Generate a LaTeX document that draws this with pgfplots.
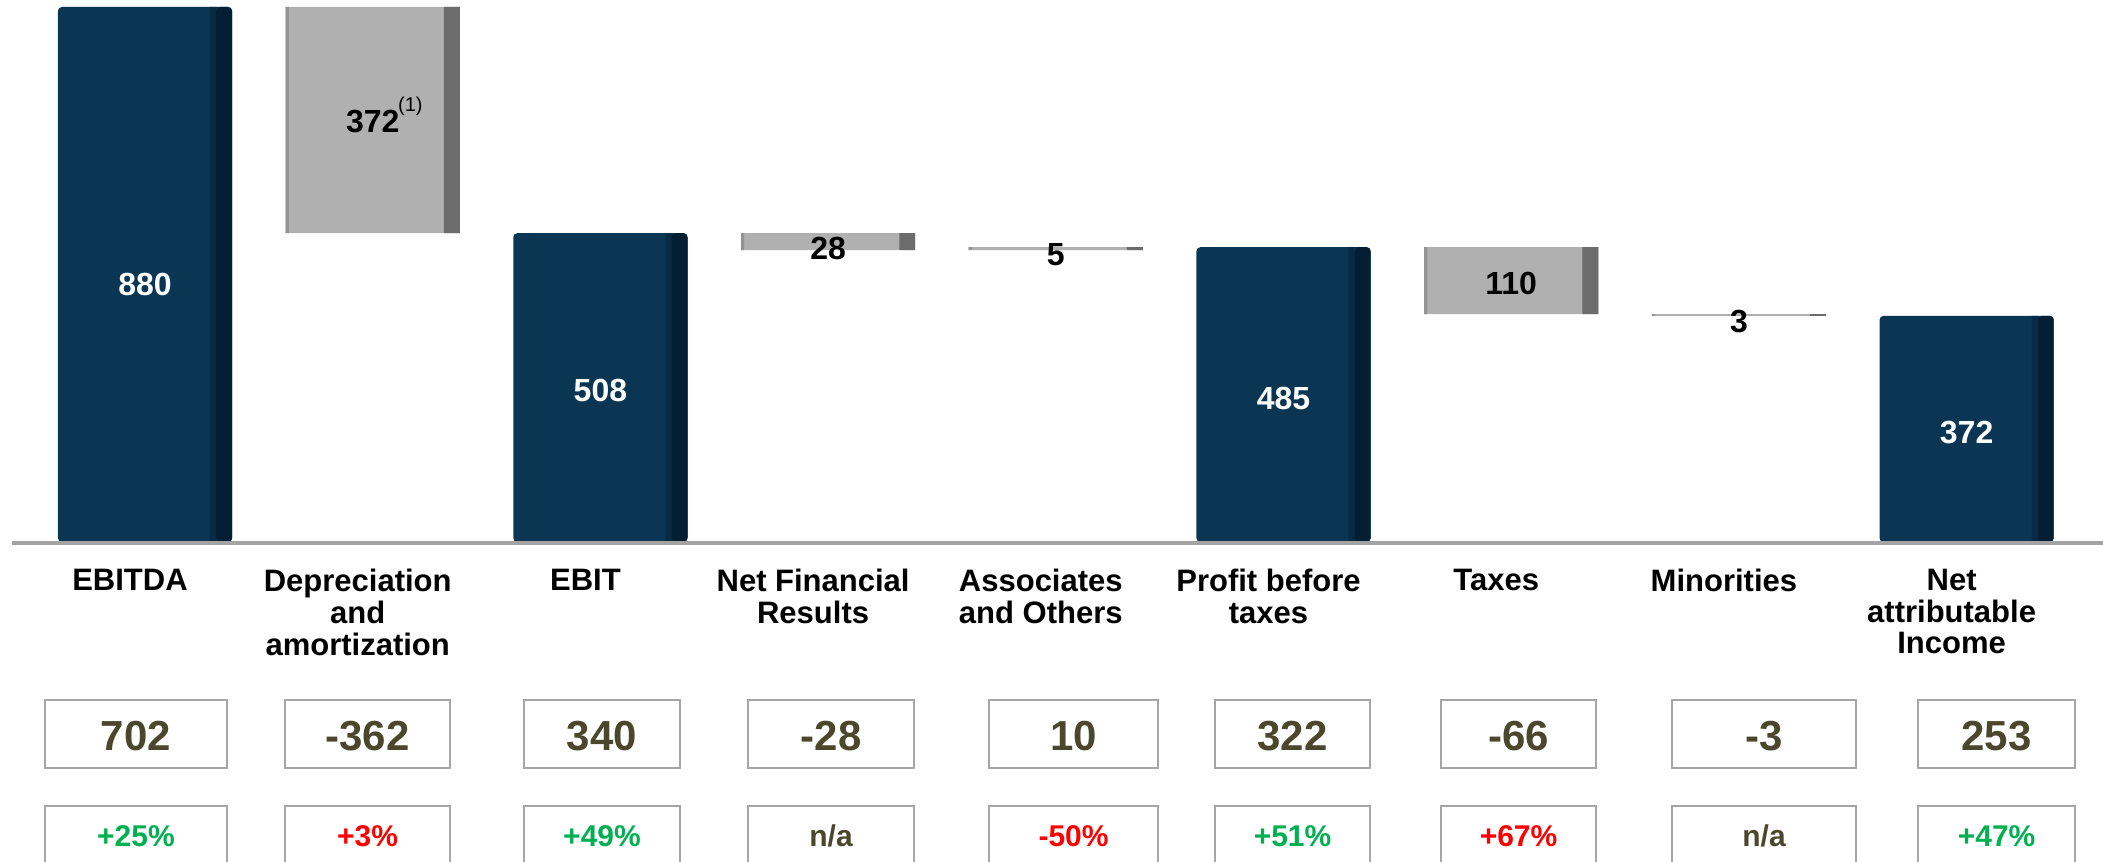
\documentclass[border=0pt]{standalone}
\usepackage{fontspec}
\setmainfont{Liberation Sans}
\usepackage{pgfplots}
\pgfplotsset{compat=1.18}

\definecolor{navy}{HTML}{0A3654}
\definecolor{navyM}{HTML}{072B45}
\definecolor{navyD}{HTML}{041F34}
\definecolor{grayM}{HTML}{B0B0B0}
\definecolor{grayL}{HTML}{939393}
\definecolor{grayD}{HTML}{6C6C6C}
\definecolor{boxline}{HTML}{A6A6A6}
\definecolor{olive}{HTML}{4A472C}
\definecolor{upgreen}{HTML}{00B050}
\definecolor{basegray}{HTML}{A3A3A3}

\pgfplotsset{frame/.style={
    scale only axis,
    width=1051.5pt, height=430.5pt,
    xmin=-0.6368, xmax=8.599,
    ymin=-524.7, ymax=891.5,
    clip=false}}

\begin{document}
\begin{tikzpicture}
% floating steps: face, right strip, left edge
\begin{axis}[frame, hide axis, ybar stacked, bar width=0.765]
\addplot[draw=none, fill=none]
    coordinates {(1,508) (3,480) (4,480) (6,375) (7,372)};
\addplot[draw=none, fill=grayM]
    coordinates {(1,372) (3,28) (4,5) (6,110) (7,3)};
\end{axis}
\begin{axis}[frame, hide axis, ybar stacked, bar width=0.07]
\addplot[draw=none, fill=none, bar shift=0.3475]
    coordinates {(1,508) (3,480) (4,480) (6,375) (7,372)};
\addplot[draw=none, fill=grayD, bar shift=0.3475]
    coordinates {(1,372) (3,28) (4,5) (6,110) (7,3)};
\end{axis}
\begin{axis}[frame, hide axis, ybar stacked, bar width=0.014]
\addplot[draw=none, fill=none, bar shift=-0.3755]
    coordinates {(1,508) (3,480) (4,480) (6,375) (7,372)};
\addplot[draw=none, fill=grayL, bar shift=-0.3755]
    coordinates {(1,372) (3,28) (4,5) (6,110) (7,3)};
\end{axis}

% totals and category names
\begin{axis}[frame,
    ybar,
    axis x line=middle, axis y line=none,
    axis line style={draw=none},
    xtick={0,...,8}, ytick=\empty,
    major tick length=0pt,
    xticklabels={EBITDA, {Depreciation\\and\\amortization}, EBIT,
        {Net Financial\\Results}, {Associates\\and Others}, {Profit before\\taxes},
        Taxes, Minorities, {Net\\attributable\\Income}},
    xticklabel style={font=\fontsize{15.5}{15.8}\selectfont\bfseries,
        align=center, anchor=north, inner sep=0pt, yshift=-13.5pt, xshift=-7.5pt},
]
\addplot[draw=none, fill=navy, bar width=0.765, bar shift=0, rounded corners=2pt]
    coordinates {(0,880) (2,508) (5,485) (8,372)};
\addplot[draw=none, fill=navyM, bar width=0.03, bar shift=0.3, rounded corners=0pt]
    coordinates {(0,880) (2,508) (5,485) (8,372)};
\addplot[draw=none, fill=navyD, bar width=0.07, bar shift=0.3475, rounded corners=2pt]
    coordinates {(0,880) (2,508) (5,485) (8,372)};

\node[white, font=\fontsize{16}{19}\selectfont\bfseries] at (axis cs:0,424) {880};
\node[white, font=\fontsize{16}{19}\selectfont\bfseries] at (axis cs:2,250) {508};
\node[white, font=\fontsize{16}{19}\selectfont\bfseries] at (axis cs:5,236) {485};
\node[white, font=\fontsize{16}{19}\selectfont\bfseries] at (axis cs:8,180) {372};
\node[font=\fontsize{16}{19}\selectfont\bfseries] at (axis cs:1,691) {372};
\node[font=\fontsize{10}{12}\selectfont, anchor=south west, inner sep=0pt] at (axis cs:1.11,700) {(1)};
\node[font=\fontsize{16}{19}\selectfont\bfseries] at (axis cs:3,482) {28};
\node[font=\fontsize{16}{19}\selectfont\bfseries] at (axis cs:4,472) {5};
\node[font=\fontsize{16}{19}\selectfont\bfseries] at (axis cs:6,426) {110};
\node[font=\fontsize{16}{19}\selectfont\bfseries] at (axis cs:7,363) {3};
\end{axis}

\begin{scope}[shift={(current axis.north west)}, x=0.5pt, y=-0.5pt]
\draw[basegray, line width=2pt] (12,543) -- (2103,543);
\foreach \l/\r/\v/\p/\c in {
    45/227/702/{+25\%}/upgreen,
    285/450/-362/{+3\%}/red,
    524/680/340/{+49\%}/upgreen,
    748/914/-28/{n/a}/olive,
    989/1158/10/{-50\%}/red,
    1215/1370/322/{+51\%}/upgreen,
    1441/1596/-66/{+67\%}/red,
    1672/1856/-3/{n/a}/olive,
    1918/2075/253/{+47\%}/upgreen}{
  \draw[boxline, line width=1.2pt] (\l,700) rectangle (\r,768);
  \node[olive, font=\fontsize{21}{25}\selectfont\bfseries] at ({(\l+\r)/2},736) {\v};
  \draw[boxline, line width=1.2pt] (\l,890) -- (\l,806) -- (\r,806) -- (\r,890);
  \node[\c, font=\fontsize{15}{18}\selectfont\bfseries] at ({(\l+\r)/2},836) {\p};
}
\end{scope}
\pgfresetboundingbox
\path (current axis.south west) rectangle (current axis.north east);
\end{tikzpicture}
\end{document}
